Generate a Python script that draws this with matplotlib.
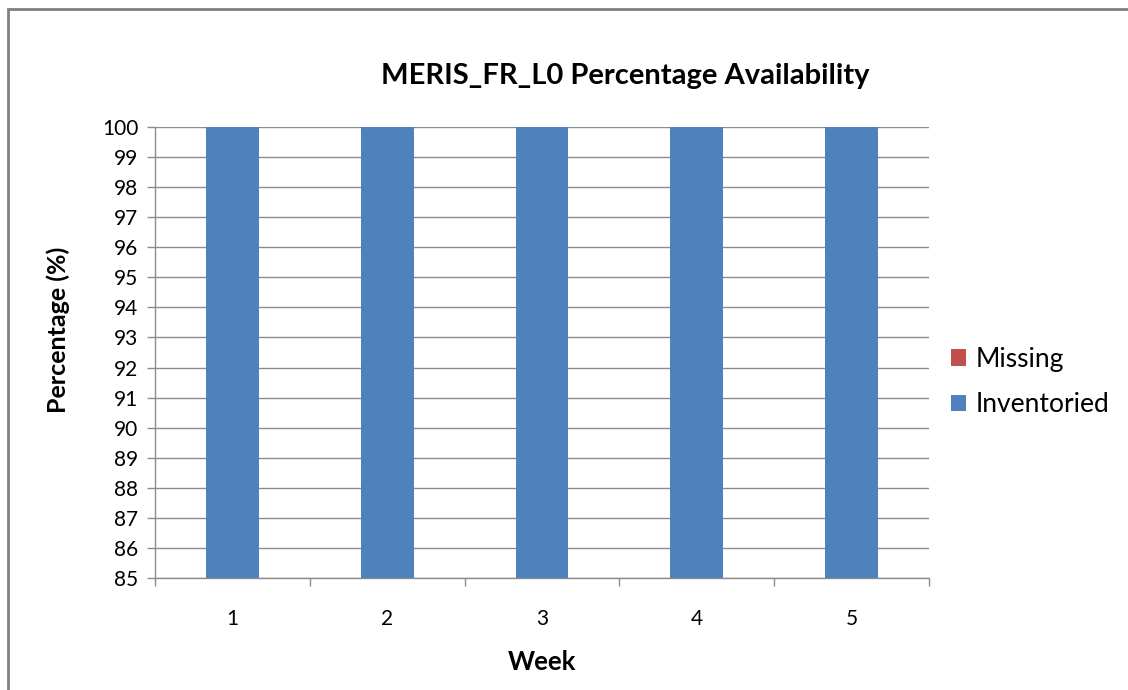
import matplotlib.pyplot as plt
from matplotlib.patches import Rectangle
import numpy as np

plt.rcParams['font.family'] = ['Lato', 'DejaVu Sans']

weeks = ['1', '2', '3', '4', '5']
inventoried = [100, 100, 100, 100, 100]
missing = [0, 0, 0, 0, 0]

blue = '#4F81BD'
red = '#C0504D'
grid = '#8C8C8C'

W, H = 1128, 690
fig = plt.figure(figsize=(W / 100, H / 100), dpi=100)
ax = fig.add_axes([155 / W, 112 / H, 774 / W, 451 / H])

x = np.arange(len(weeks))
ax.bar(x, inventoried, width=0.34, color=blue, label='Inventoried', zorder=3)
ax.bar(x, missing, width=0.34, bottom=inventoried, color=red, label='Missing', zorder=3)

ax.set_xlim(-0.5, len(weeks) - 0.5)
ax.set_ylim(85, 100)
ax.set_yticks(range(85, 101))
ax.yaxis.grid(True, color=grid, lw=1.0, zorder=0)
ax.set_xticks(x)
ax.set_xticklabels(weeks)
ax.set_xticks(np.arange(-0.5, len(weeks)), minor=True)
ax.tick_params(axis='x', which='major', length=0, pad=22, labelsize=15)
ax.tick_params(axis='x', which='minor', length=6, color=grid, width=1)
ax.tick_params(axis='y', length=6, color=grid, width=1, pad=6, labelsize=15)

for s in ['top', 'right']:
    ax.spines[s].set_visible(False)
for s in ['left', 'bottom']:
    ax.spines[s].set_color(grid)
    ax.spines[s].set_linewidth(1.0)

fig.text(625 / W, 1 - 76 / H, 'MERIS_FR_L0 Percentage Availability', fontsize=21,
         fontweight='bold', ha='center', va='center')
fig.text(542 / W, 1 - 662 / H, 'Week', fontsize=18.5, fontweight='bold',
         ha='center', va='center')
fig.text(58 / W, 1 - 330 / H, 'Percentage (%)', fontsize=18, fontweight='bold',
         ha='center', va='center', rotation=90)

handles, labels = ax.get_legend_handles_labels()
fig.legend(handles[::-1], labels[::-1], loc='center left',
           bbox_to_anchor=(951 / W, 1 - 382 / H), frameon=False, fontsize=19,
           handlelength=0.58, handleheight=0.58, handletextpad=0.35,
           labelspacing=0.78, borderpad=0, borderaxespad=0)

fig.patches.append(Rectangle((8 / W, -0.1), 1.2, 1.1 - 9 / H, transform=fig.transFigure,
                             fill=False, edgecolor='#808080', lw=2))

fig.savefig('out.png', dpi=100)
